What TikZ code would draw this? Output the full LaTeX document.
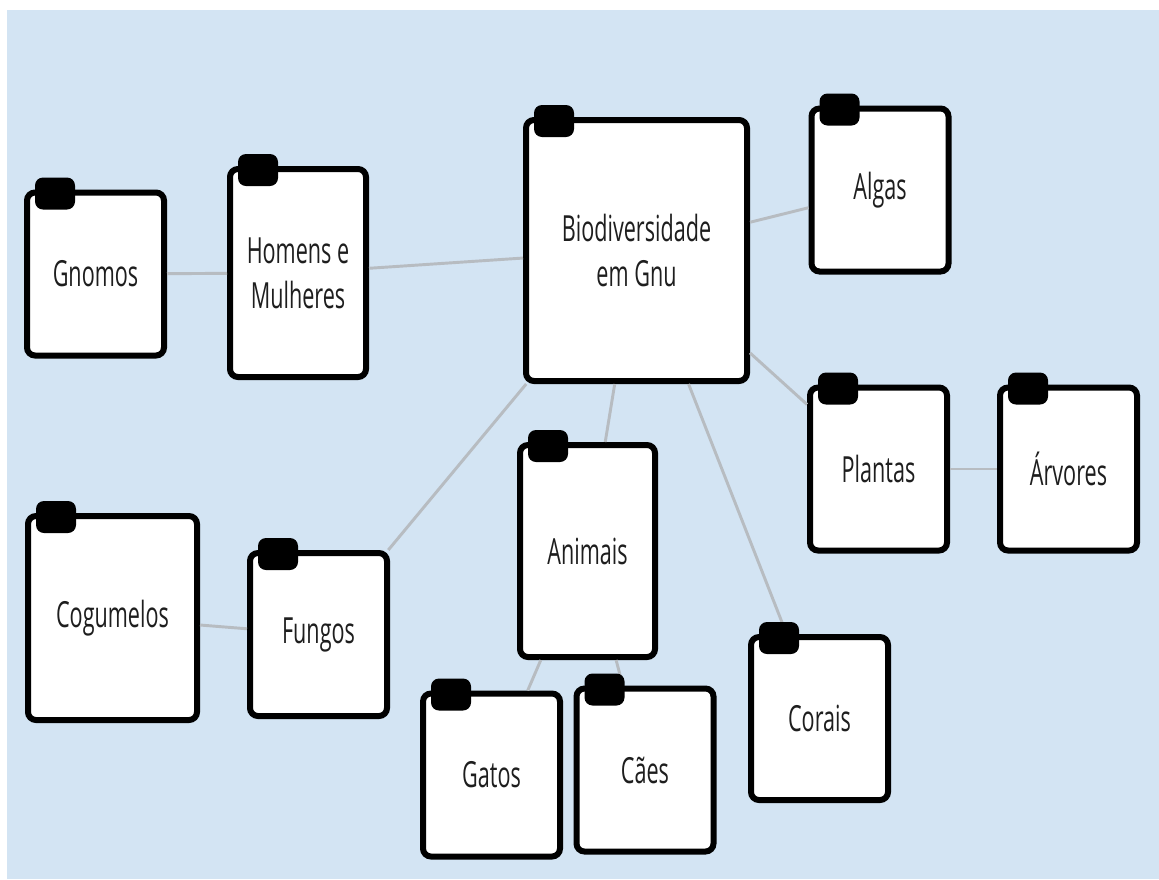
\documentclass[tikz,border=0pt]{standalone}
\usepackage{fontspec}
\newfontfamily\fichafont[FakeStretch=0.6]{Open Sans}
\definecolor{fundo}{HTML}{D3E4F3}
\definecolor{corlinha}{HTML}{B7BCC1}
\definecolor{letra}{HTML}{1E1E1E}

\begin{document}
\begin{tikzpicture}[x=0.75pt,y=-0.75pt,
  ficha/.style={draw=black, line width=4.5pt, rounded corners=6pt, fill=white, text=letra, align=center, inner sep=0pt, minimum width=102.75pt, minimum height=122.25pt, font=\fichafont\fontsize{27}{34}\selectfont},
  aba/.style={fill=black, rounded corners=6pt},
  ligacao/.style={draw=corlinha, line width=2.2pt}]
\useasboundingbox (0,0) rectangle (1159,879);
\fill[fundo] (7,10) rectangle (1159,879);
% caixas
\node[ficha] (gnomos) at (95.5,274) {Gnomos};
\node[ficha, minimum width=102pt, minimum height=156pt] (homens) at (298,273) {Homens e\\Mulheres};
\node[ficha, minimum width=165.75pt, minimum height=195.75pt] (bio) at (636.5,250.5) {Biodiversidade\\em Gnu};
\node[ficha] (algas) at (880,190) {Algas};
\node[ficha] (plantas) at (878.5,469) {Plantas};
\node[ficha] (arvores) at (1068.5,469) {Árvores};
\node[ficha, minimum width=126.75pt, minimum height=153pt] (cogumelos) at (112.5,618) {Cogumelos};
\node[ficha] (fungos) at (318.5,634.5) {Fungos};
\node[ficha, minimum width=101.25pt, minimum height=159pt] (animais) at (587.5,551) {Animais};
\node[ficha] (gatos) at (491.5,775) {Gatos};
\node[ficha] (caes) at (645,770) {Cães};
\node[ficha] (corais) at (819.5,718.5) {Corais};
% ligacoes
\draw[ligacao] (gnomos) -- (homens);
\draw[ligacao] (homens) -- (bio);
\draw[ligacao] (bio) -- (algas);
\draw[ligacao] (bio) -- (plantas);
\draw[ligacao] (plantas) -- (arvores);
\draw[ligacao] (bio) -- (fungos);
\draw[ligacao] (bio) -- (animais);
\draw[ligacao] (bio) -- (corais);
\draw[ligacao] (cogumelos) -- (fungos);
\draw[ligacao] (animais) -- (gatos);
\draw[ligacao] (animais) -- (caes);
% abas
\foreach \n in {gnomos,homens,bio,algas,plantas,arvores,cogumelos,fungos,animais,gatos,caes,corais}
  \fill[aba] ([xshift=8.25pt,yshift=9pt]\n.north west) rectangle ++(30pt,-24pt);
\end{tikzpicture}
\end{document}
